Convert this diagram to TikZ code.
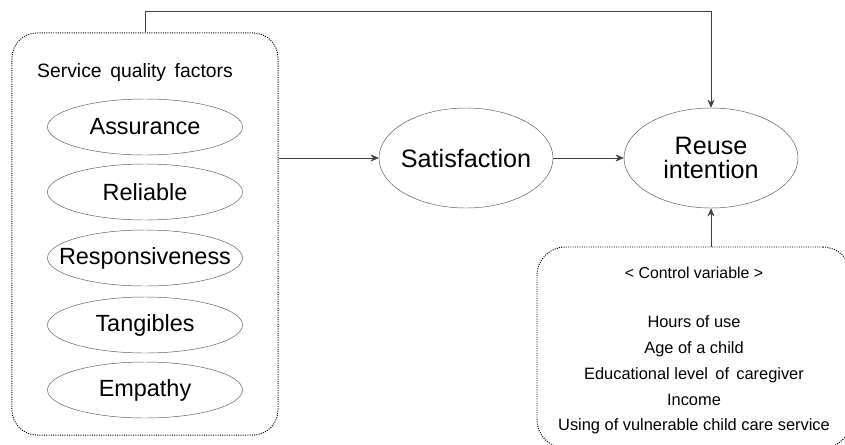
\documentclass[tikz,border=0pt]{standalone}
\usepackage{fontspec}
\setmainfont{Liberation Sans}
\usetikzlibrary{shapes.geometric,arrows.meta}

\newcommand{\ctrtext}[1]{\makebox[0pt]{#1}}

\tikzset{
  factor/.style={ellipse, draw=black!65, minimum width=5.85cm, minimum height=1.68cm,
    inner sep=0pt, font=\fontsize{20}{24}\selectfont},
  construct/.style={ellipse, draw=black!65, minimum width=5.22cm, minimum height=3cm,
    inner sep=0pt, align=center, font=\fontsize{21.5}{21}\selectfont},
  groupbox/.style={draw=black, line width=0.85pt, dash pattern=on 0.85pt off 1.1pt},
  link/.style={draw=black!75, -{Stealth[length=7pt,width=6pt]}}
}

\begin{document}
\begin{tikzpicture}[x=0.03cm, y=-0.03cm]
    \useasboundingbox (0,0) rectangle (845,444);

    % service quality factors
    \node[groupbox, rounded corners=0.75cm, minimum width=7.98cm, minimum height=12.06cm] (sqf) at (145,234) {};
    \node[font=\fontsize{16.5}{19}\selectfont] (sqftitle) at (135,72) {Service\, quality\, factors};
    \node[factor] (assur) at (145,127) {\ctrtext{Assurance}};
    \node[factor] (relia) at (145,192) {\ctrtext{Reliable}};
    \node[factor] (respo) at (145,258) {\ctrtext{Responsiveness}};
    \node[factor] (tangi) at (145,325) {\ctrtext{Tangibles}};
    \node[factor] (empat) at (145,390) {\ctrtext{Empathy}};

    % main constructs
    \node[construct] (sat) at (466,158) {\ctrtext{Satisfaction}};
    \node[construct] (reuse) at (711,158) {Reuse\\intention};

    % control variables
    \node[groupbox, rounded corners=0.85cm, minimum width=9.42cm, minimum height=6.03cm] (ctrl) at (694,347.5) {};
    \node[font=\fontsize{13.5}{16}\selectfont] (ctrltitle) at (694,273) {< Control variable >};
    \node[align=center, font=\fontsize{14}{22}\selectfont] (ctrlitems) at (694,375)
      {Hours of use\\Age of a child\\Educational level\, of\, caregiver\\Income\\Using of vulnerable child care service};

    % paths
    \draw[link] (sqf.north) -- ++(0,-21) -| (reuse.north);
    \draw[link] (sqf.east |- sat.west) -- (sat.west);
    \draw[link] (sat.east) -- (reuse.west);
    \draw[link] (ctrl.north -| reuse.south) -- (reuse.south);
\end{tikzpicture}
\end{document}
